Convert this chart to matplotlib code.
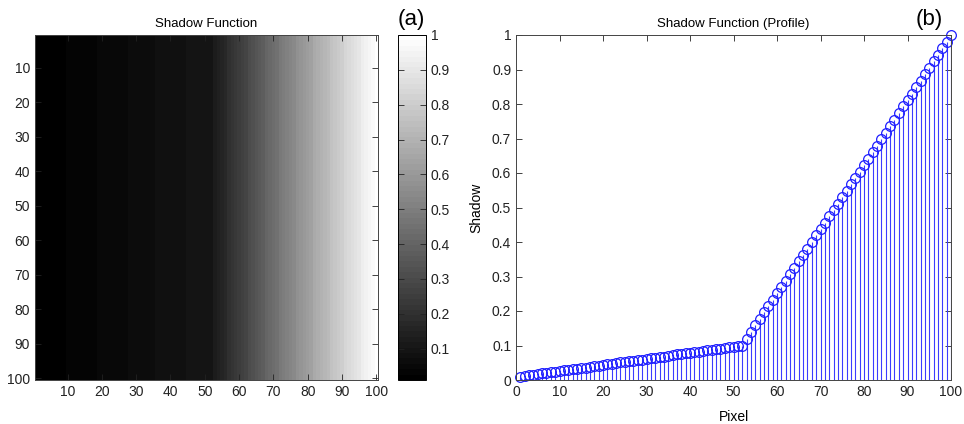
import matplotlib

matplotlib.use("Agg")

import matplotlib.pyplot as plt
import numpy as np

plt.rcParams["font.family"] = ["Liberation Sans", "DejaVu Sans"]

# shadow profile, one value per pixel column 1..100
low_part = [
    0.010, 0.012, 0.014, 0.015, 0.017, 0.019, 0.021, 0.022, 0.024, 0.026,
    0.028, 0.029, 0.031, 0.033, 0.035, 0.036, 0.038, 0.040, 0.042, 0.044,
    0.045, 0.047, 0.049, 0.051, 0.052, 0.054, 0.056, 0.058, 0.059, 0.061,
    0.063, 0.065, 0.066, 0.068, 0.070, 0.072, 0.074, 0.075, 0.077, 0.079,
    0.081, 0.082, 0.084, 0.086, 0.088, 0.089, 0.091, 0.093, 0.095, 0.096,
    0.098, 0.100,
]
high_part = [
    0.120, 0.139, 0.158, 0.177, 0.196, 0.214, 0.233, 0.251, 0.270, 0.288,
    0.307, 0.325, 0.344, 0.362, 0.381, 0.400, 0.419, 0.437, 0.456, 0.475,
    0.493, 0.511, 0.530, 0.548, 0.567, 0.585, 0.604, 0.622, 0.641, 0.660,
    0.679, 0.698, 0.717, 0.736, 0.755, 0.774, 0.793, 0.811, 0.830, 0.849,
    0.868, 0.886, 0.905, 0.924, 0.943, 0.962, 0.981, 1.000,
]
shadow = np.array(low_part + high_part)
pixels = np.arange(1, len(shadow) + 1)
n_rows = 100

image_ticks = [10, 20, 30, 40, 50, 60, 70, 80, 90, 100]
cbar_ticks = [0.1, 0.2, 0.3, 0.4, 0.5, 0.6, 0.7, 0.8, 0.9, 1]
profile_xticks = [0, 10, 20, 30, 40, 50, 60, 70, 80, 90, 100]
profile_yticks = [0, 0.1, 0.2, 0.3, 0.4, 0.5, 0.6, 0.7, 0.8, 0.9, 1]

W, H = 964, 424
fig = plt.figure(figsize=(W / 100, H / 100), dpi=100)


def box(x0, y0, x1, y1):
    return [x0 / W, 1 - y1 / H, (x1 - x0) / W, (y1 - y0) / H]


def matlab_ticks(ax):
    ax.tick_params(direction="in", top=True, right=True, length=4,
                   width=0.6, labelsize=10, colors="#222222")
    for s in ax.spines.values():
        s.set_linewidth(0.7)
        s.set_color("#444444")


# panel (a): image
ax1 = fig.add_axes(box(35, 35, 378, 380))
img = np.tile(shadow, (n_rows, 1))
im = ax1.imshow(img, cmap=plt.get_cmap("gray", 64), vmin=shadow.min(), vmax=1,
                aspect="auto", interpolation="nearest",
                extent=[0.5, 100.5, 100.5, 0.5])
ax1.set_xticks(image_ticks)
ax1.set_yticks(image_ticks)
matlab_ticks(ax1)
ax1.set_title("Shadow Function", fontsize=9.5, pad=6)

cax = fig.add_axes(box(398, 35, 426, 380))
cb = fig.colorbar(im, cax=cax)
cb.set_ticks(cbar_ticks)
cb.set_ticklabels(["0.1", "0.2", "0.3", "0.4", "0.5", "0.6", "0.7", "0.8", "0.9", "1"])
cax.tick_params(direction="in", left=True, right=True, length=4, width=0.6,
                labelsize=10, colors="#222222")
cb.outline.set_linewidth(0.7)
fig.text(411 / W, 1 - 20 / H, "(a)", fontsize=16, ha="center", va="center")

# panel (b): stem profile
ax2 = fig.add_axes(box(516, 35, 951, 380))
markerline, stemlines, baseline = ax2.stem(pixels, shadow, basefmt=" ")
stemlines.set_color("#3c3cff")
stemlines.set_linewidth(0.8)
markerline.set_markerfacecolor("none")
markerline.set_markeredgecolor("#1e1eff")
markerline.set_markersize(7)
markerline.set_markeredgewidth(0.9)
markerline.set_clip_on(False)
ax2.set_xlim(0, 100)
ax2.set_ylim(0, 1)
ax2.set_xticks(profile_xticks)
ax2.set_yticks(profile_yticks)
ax2.set_yticklabels(["0", "0.1", "0.2", "0.3", "0.4", "0.5", "0.6", "0.7", "0.8", "0.9", "1"])
matlab_ticks(ax2)
ax2.set_title("Shadow Function (Profile)", fontsize=9.5, pad=6)
ax2.set_xlabel("Pixel", fontsize=10, labelpad=8)
ax2.set_ylabel("Shadow", fontsize=10, labelpad=6)
fig.text(929 / W, 1 - 20 / H, "(b)", fontsize=16, ha="center", va="center")

fig.savefig("out.png", dpi=100)
plt.close(fig)
